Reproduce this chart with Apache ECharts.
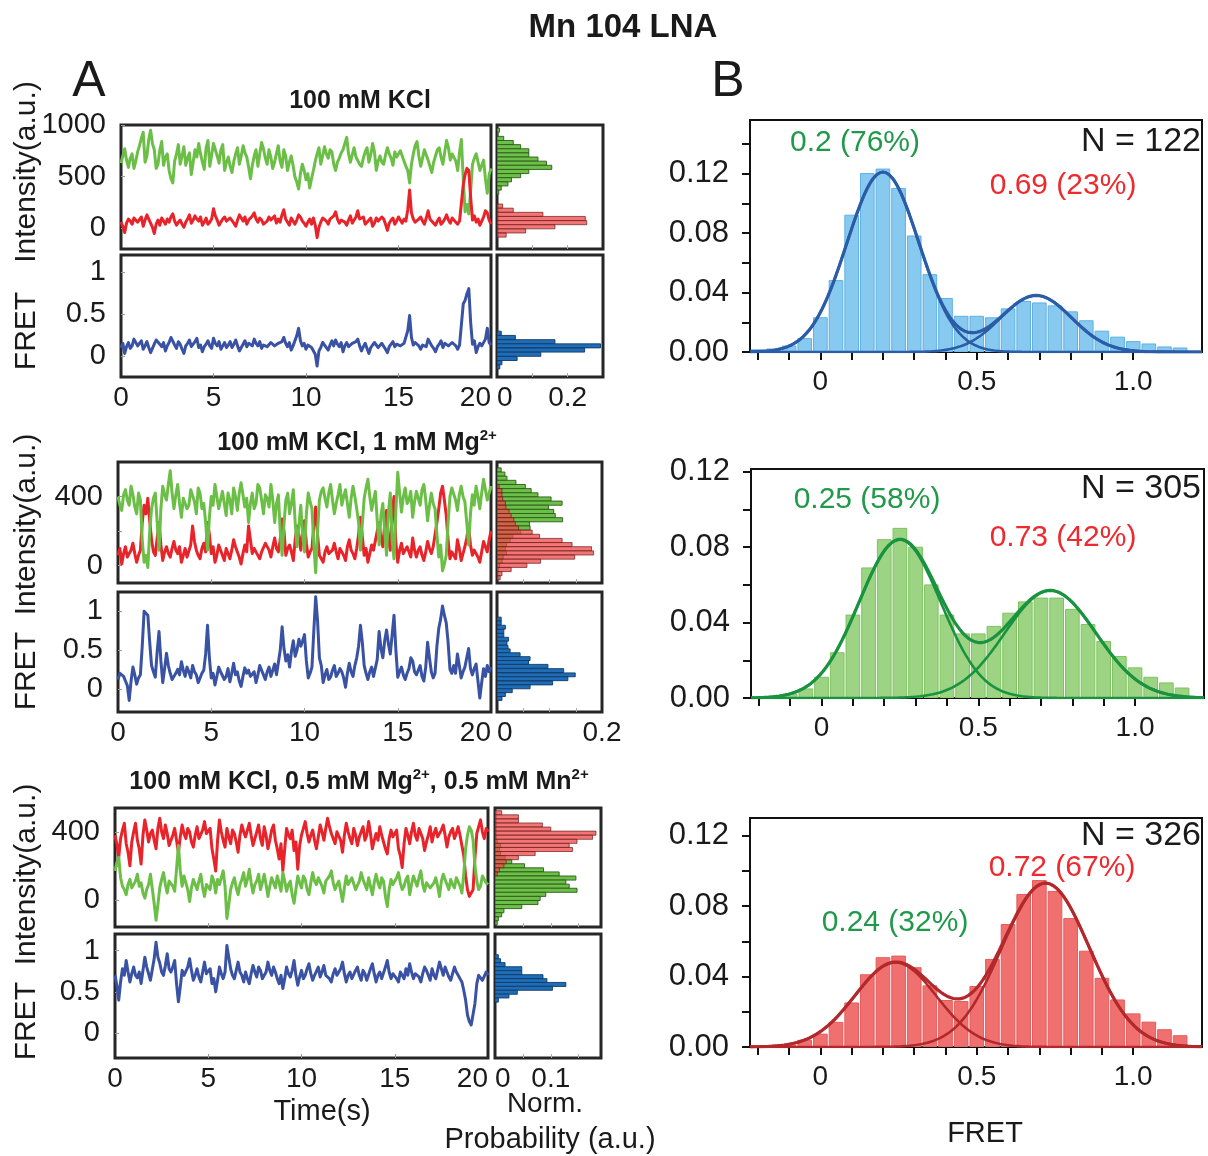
<!DOCTYPE html>
<html><head><meta charset="utf-8">
<script src="https://cdn.jsdelivr.net/npm/echarts@6/dist/echarts.min.js"></script>
<style>html,body{margin:0;padding:0;background:#fff}#c{width:1208px;height:1156px}</style>
</head><body><div id="c"></div>
<script>
// ---------- time traces (sampled every 0.1 s, 0..20 s) ----------
const DT = 0.1;
const r1Don = [
630,700,770,660,590,680,720,580,650,740, 800,870,930,640,700,860,950,820,760,580,
620,760,840,610,690,720,560,480,440,650, 720,810,620,700,790,610,680,730,520,640,
760,690,820,720,640,570,780,850,600,710, 820,760,700,630,760,810,560,640,690,600,
540,650,720,780,620,700,800,730,690,590, 480,610,700,760,600,720,830,770,680,620,
760,690,580,640,720,800,650,590,760,700, 560,640,700,610,500,450,380,530,620,560,
470,530,390,480,560,650,720,780,620,700, 790,720,680,760,740,620,560,640,680,730,
760,820,880,720,640,710,780,690,700,620, 600,680,740,780,640,710,820,740,560,650,
700,640,620,710,780,720,680,610,740,690, 680,750,700,650,600,560,440,620,720,800,
840,700,600,680,760,710,660,600,540,640, 700,760,780,690,620,740,850,780,660,720,
720,650,560,740,860,480,160,230,140,360, 620,680,720,640,560,610,660,480,340,520, 580];
const r1Acc = [
60,20,-40,50,90,70,40,100,110,60, 70,110,20,80,130,90,50,10,-50,40,
80,30,100,70,40,90,60,110,140,70, 30,60,80,40,10,60,90,130,50,80,
120,90,70,110,30,60,100,40,60,90, 190,120,80,30,40,90,110,70,60,100,
90,50,20,80,130,100,70,110,40,80, 90,120,150,90,60,100,80,40,30,70,
110,80,70,120,50,90,60,130,180,90, 60,30,100,70,40,80,130,110,70,50,
20,60,90,40,100,30,-90,10,60,100, 110,70,40,90,80,120,160,90,50,80,
90,60,30,80,120,50,60,110,170,90, 80,110,40,60,70,100,20,50,100,70,
60,110,90,40,-20,50,80,100,40,70, 110,80,50,90,70,180,370,150,90,60,
60,90,110,70,40,100,170,90,80,50, 30,70,100,40,60,90,130,80,50,100,
90,60,40,70,80,420,520,580,560,300, 80,120,60,90,30,70,110,170,150,80, 40];
const r1Fret = [
0.10,0.15,0.03,0.11,0.16,0.09,0.12,0.20,0.18,0.12, 0.13,0.18,0.08,0.12,0.17,0.10,0.04,0.09,0.14,0.19,
0.19,0.14,0.11,0.16,0.06,0.12,0.16,0.22,0.20,0.13, 0.09,0.17,0.14,0.08,0.03,0.12,0.15,0.19,0.11,0.14,
0.17,0.21,0.10,0.13,0.05,0.11,0.14,0.18,0.12,0.09, 0.21,0.15,0.12,0.17,0.08,0.12,0.16,0.10,0.13,0.17,
0.10,0.14,0.19,0.12,0.06,0.10,0.14,0.18,0.11,0.15, 0.16,0.12,0.20,0.15,0.12,0.17,0.09,0.13,0.15,0.11,
0.13,0.16,0.18,0.12,0.10,0.15,0.14,0.17,0.22,0.15, 0.11,0.16,0.07,0.12,0.14,0.24,0.33,0.18,0.12,0.15,
0.08,0.13,0.15,0.10,0.12,0.02,-0.12,0.06,0.10,0.16, 0.14,0.10,0.07,0.13,0.18,0.12,0.19,0.14,0.11,0.16,
0.05,0.12,0.16,0.11,0.09,0.15,0.13,0.17,0.20,0.12, 0.06,0.11,0.15,0.09,0.03,0.10,0.12,0.16,0.17,0.10,
0.09,0.15,0.14,0.08,0.04,0.11,0.13,0.17,0.11,0.14, 0.16,0.12,0.10,0.15,0.14,0.30,0.48,0.22,0.13,0.16,
0.17,0.12,0.08,0.13,0.15,0.11,0.20,0.16,0.12,0.09, 0.05,0.11,0.14,0.18,0.10,0.15,0.16,0.12,0.12,0.16,
0.15,0.12,0.08,0.13,0.13,0.62,0.66,0.74,0.80,0.40, 0.14,0.18,0.04,0.11,0.15,0.12,0.10,0.20,0.33,0.16, 0.13];

const r2Don = [
400,350,320,410,440,380,350,460,410,340, 300,420,380,150,20,60,-10,200,330,390,
420,250,90,330,460,410,380,470,550,420, 330,410,470,360,280,390,400,330,350,440,
440,370,300,450,420,330,360,250,90,280, 400,350,470,400,330,380,430,360,290,420,
380,300,450,400,320,420,480,410,340,390, 250,360,420,330,360,470,450,380,300,410,
390,340,470,380,250,360,410,200,60,240, 380,420,300,360,440,250,110,230,350,180,
80,300,420,370,330,120,-40,200,380,430, 450,390,340,420,470,380,300,360,410,470,
350,400,440,360,280,390,460,400,330,250, 90,240,390,450,500,400,320,380,430,260,
120,290,360,200,60,310,420,150,40,320, 540,420,310,400,450,360,380,430,280,370,
430,390,350,440,470,380,260,350,420,360, 330,180,50,120,-30,10,60,250,400,450,
440,380,320,410,460,400,370,250,120,300, 410,350,460,400,330,420,500,440,380,420, 460];
const r2Acc = [
60,100,10,70,110,50,40,90,130,70, 20,60,90,250,350,300,390,260,150,80,
60,160,250,120,30,80,110,70,50,100, 140,90,70,110,20,60,100,50,60,120,
230,140,90,60,40,100,130,80,250,180, 70,110,20,60,120,90,60,30,100,70,
40,90,150,110,80,50,10,70,120,80, 230,150,70,100,110,60,40,80,90,130,
130,90,50,110,160,100,80,150,270,200, 60,100,120,80,30,150,230,170,90,200,
260,130,50,80,100,230,340,180,60,40, 20,80,110,70,60,90,130,80,40,100,
90,60,30,110,150,90,70,40,100,180, 280,170,60,100,20,70,120,90,80,200,
250,160,110,240,320,150,90,300,400,130, 20,90,130,70,60,110,100,50,160,90,
50,90,110,60,30,80,140,100,70,110, 120,250,330,420,460,380,290,150,40,80,
90,40,150,100,30,70,110,160,230,120, 60,90,100,50,20,80,140,110,80,150, 200];
const r2Fret = [
0.12,0.20,0.22,0.16,0.10,0.04,-0.15,0.10,0.28,0.18, 0.06,0.14,0.18,0.55,1.00,0.98,0.95,0.60,0.30,0.22,
0.15,0.48,0.74,0.36,0.08,0.26,0.46,0.30,0.20,0.12, 0.12,0.20,0.25,0.18,0.35,0.24,0.16,0.28,0.22,0.14,
0.30,0.22,0.18,0.08,0.10,0.20,0.24,0.45,0.82,0.40, 0.14,0.20,0.05,0.16,0.28,0.22,0.20,0.12,0.16,0.26,
0.09,0.20,0.33,0.18,0.22,0.10,0.03,0.16,0.27,0.20, 0.24,0.16,0.14,0.22,0.08,0.18,0.30,0.24,0.18,0.12,
0.22,0.28,0.16,0.24,0.32,0.18,0.20,0.50,0.80,0.52, 0.36,0.44,0.28,0.48,0.62,0.42,0.50,0.64,0.55,0.62,
0.70,0.36,0.14,0.20,0.28,0.75,1.19,0.88,0.40,0.30, 0.08,0.18,0.25,0.12,0.15,0.24,0.30,0.16,0.20,0.26,
0.22,0.14,0.02,0.20,0.33,0.22,0.16,0.30,0.40,0.55, 0.82,0.60,0.30,0.20,0.12,0.22,0.28,0.16,0.18,0.38,
0.74,0.52,0.40,0.62,0.76,0.58,0.45,0.70,0.95,0.50, 0.15,0.22,0.28,0.18,0.12,0.20,0.26,0.40,0.36,0.22,
0.18,0.24,0.30,0.16,0.10,0.28,0.60,0.40,0.22,0.14, 0.20,0.55,0.78,0.90,1.07,0.95,0.85,0.60,0.25,0.20,
0.30,0.20,0.45,0.30,0.14,0.22,0.28,0.40,0.52,0.26, 0.18,0.26,0.32,0.10,-0.12,0.08,0.26,0.16,0.30,0.22, 0.28];

const r3Acc = [
380,330,250,360,410,450,330,280,200,340, 400,450,350,300,210,380,470,410,340,390,
410,350,300,420,480,400,360,440,390,320, 330,380,420,350,280,370,440,390,360,420,
400,340,310,380,430,360,350,410,460,390, 380,420,300,240,170,350,470,400,350,310,
420,370,330,410,390,340,280,380,440,400, 370,410,450,380,320,360,400,440,360,320,
430,380,300,350,410,440,350,300,240,330, 170,300,420,380,360,410,290,340,180,320,
380,420,460,390,340,380,410,350,300,370, 440,400,350,420,480,430,390,360,330,400,
410,350,280,380,450,400,360,330,420,380, 320,370,400,430,350,380,460,390,300,350,
390,350,430,380,340,300,270,360,410,370, 360,410,300,260,190,330,420,380,330,400,
450,380,350,420,410,360,290,340,380,430, 340,390,420,370,360,410,440,380,310,370,
400,420,360,390,430,380,320,260,140,60, 20,10,60,250,390,430,470,400,360,420, 400];
const r3Don = [
170,220,250,130,80,60,30,90,120,70, 60,110,150,80,100,40,10,60,90,150,
140,-20,-120,-30,70,120,160,90,40,110, 110,80,50,180,320,170,80,140,130,60,
-10,70,120,90,60,110,150,70,20,90, 100,60,140,110,40,120,90,130,170,80,
-110,-30,60,100,130,70,30,90,120,160, 80,120,180,100,40,90,110,150,60,100,
150,90,20,80,130,100,70,140,100,50, 160,110,50,90,110,30,-20,60,140,100,
70,140,120,60,30,100,160,110,90,130, 130,80,40,110,100,140,170,100,60,90,
110,50,-10,70,140,90,80,130,120,60, 50,110,160,120,90,60,130,80,30,100,
150,100,70,130,110,20,-40,60,120,90, 90,130,160,100,60,80,120,140,30,90,
140,110,80,130,170,90,50,100,110,70, 60,100,130,80,20,110,150,120,90,60,
120,90,70,130,140,80,40,150,300,380, 430,410,350,200,110,60,80,140,130,100, 90];
const r3Fret = [
0.70,0.58,0.40,0.62,0.78,0.70,0.88,0.74,0.62,0.72, 0.80,0.70,0.67,0.74,0.60,0.76,0.92,0.80,0.72,0.64,
0.66,0.90,1.10,0.92,0.85,0.74,0.70,0.82,0.96,0.78, 0.74,0.80,0.88,0.60,0.38,0.56,0.76,0.70,0.68,0.80,
0.90,0.76,0.64,0.70,0.78,0.68,0.62,0.74,0.86,0.72, 0.70,0.78,0.60,0.66,0.50,0.64,0.80,0.72,0.66,0.74,
1.06,0.92,0.78,0.70,0.66,0.76,0.86,0.74,0.70,0.62, 0.74,0.66,0.60,0.72,0.82,0.74,0.68,0.80,0.76,0.66,
0.64,0.74,0.86,0.76,0.70,0.80,0.74,0.66,0.60,0.70, 0.54,0.66,0.80,0.72,0.68,0.76,0.88,0.70,0.58,0.68,
0.76,0.66,0.70,0.78,0.84,0.72,0.64,0.70,0.72,0.80, 0.68,0.74,0.82,0.70,0.72,0.66,0.62,0.72,0.78,0.70,
0.70,0.78,0.86,0.72,0.62,0.70,0.74,0.66,0.68,0.76, 0.80,0.70,0.64,0.76,0.72,0.64,0.66,0.78,0.84,0.72,
0.62,0.70,0.74,0.66,0.68,0.80,0.88,0.74,0.66,0.72, 0.72,0.66,0.62,0.74,0.70,0.66,0.78,0.70,0.84,0.74,
0.66,0.72,0.74,0.68,0.62,0.72,0.80,0.76,0.70,0.64, 0.78,0.70,0.66,0.76,0.86,0.78,0.70,0.80,0.74,0.68,
0.64,0.72,0.80,0.74,0.70,0.66,0.62,0.52,0.40,0.22, 0.14,0.10,0.12,0.36,0.60,0.70,0.72,0.64,0.66,0.74, 0.70];

// ---------- side histograms (normalised probability per bin) ----------
const r1DonBins = [950,910,870,830,790,750,710,670,630,590,550,510,470,430,390,350];
const r1DonHist = [0.007,0.002,0.019,0.046,0.067,0.09,0.09,0.116,0.14,0.155,0.09,0.067,0.041,0.031,0.012,0.005];
const r1AccBins = [215,175,135,95,55,15,-25,-65];
const r1AccHist = [0.016,0.046,0.13,0.25,0.254,0.164,0.081,0.026];
const r1FretBins = [0.27,0.22,0.17,0.12,0.07,0.02,-0.03,-0.08,-0.13];
const r1FretHist = [0.012,0.052,0.164,0.293,0.248,0.124,0.057,0.014,0.008];

const r2IntBins = [554,530,506,482,458,434,410,386,362,338,314,290,266,242,218,194,170,146,122,98,74,50,26,2,-22,-46,-70];
const r2DonHist = [0.008,0.015,0.019,0.036,0.054,0.065,0.078,0.103,0.124,0.098,0.108,0.111,0.125,0.062,0.063,0.045,0.03,0.025,0.018,0.016,0.018,0.012,0.01,0.005,0.002,0,0];
const r2AccHist = [0,0,0,0,0.004,0.0095,0.0095,0.011,0.016,0.017,0.023,0.027,0.032,0.035,0.041,0.067,0.081,0.124,0.143,0.18,0.184,0.148,0.083,0.057,0.027,0.0095,0.006];
const r2FretBins = [0.90,0.85,0.795,0.74,0.69,0.64,0.59,0.535,0.49,0.44,0.39,0.34,0.29,0.235,0.18,0.13,0.075,0.025,-0.025,-0.075,-0.125];
const r2FretHist = [0.008,0.008,0.016,0.013,0.013,0.022,0.019,0.021,0.025,0.044,0.063,0.06,0.097,0.127,0.149,0.135,0.106,0.063,0.029,0.016,0.0095];

const r3IntBins = [512,488,464,440,416,392,368,344,320,296,272,248,224,200,176,152,128,104,80,56,32,8,-16,-40,-64,-88,-112,-136];
const r3AccHist = [0.012,0.042,0.042,0.085,0.1,0.181,0.175,0.147,0.133,0.139,0.072,0.042,0.02,0.016,0.008,0.004,0,0,0,0,0,0,0,0,0,0,0,0];
const r3DonHist = [0,0,0,0,0,0,0,0.004,0.01,0.008,0.01,0.018,0.03,0.053,0.087,0.115,0.145,0.127,0.133,0.147,0.091,0.081,0.077,0.048,0.016,0.012,0.006,0.004];
const r3FretBins = [0.925,0.877,0.83,0.78,0.733,0.684,0.636,0.59,0.543,0.495,0.45,0.40];
const r3FretHist = [0.006,0.010,0.018,0.048,0.048,0.086,0.093,0.127,0.103,0.04,0.025,0.006];

// ---------- FRET histograms (panel B) ----------
const fretBins = [-0.2,-0.15,-0.1,-0.05,0,0.05,0.1,0.15,0.2,0.25,0.3,0.35,0.4,0.45,0.5,0.55,0.6,0.65,0.7,0.75,0.8,0.85,0.9,0.95,1.0,1.05,1.1,1.15];
const histKCl = [0.0015,0.002,0.004,0.009,0.023,0.048,0.092,0.12,0.123,0.110,0.078,0.052,0.036,0.024,0.024,0.023,0.029,0.034,0.033,0.031,0.027,0.021,0.014,0.010,0.007,0.0054,0.0034,0.0027];
const histMg = [0,0.001,0.002,0.0048,0.011,0.024,0.044,0.069,0.084,0.09,0.080,0.060,0.044,0.034,0.034,0.038,0.045,0.051,0.053,0.053,0.047,0.039,0.030,0.022,0.016,0.011,0.008,0.0053];
const histMn = [0,0,0.001,0.0038,0.0073,0.014,0.025,0.041,0.0507,0.0516,0.045,0.0347,0.0264,0.0258,0.0343,0.0497,0.0695,0.0866,0.0945,0.0883,0.0729,0.0544,0.039,0.0267,0.0188,0.0141,0.0098,0.0064];
// Gaussian fit parameters: [mean, peak height, sd]
const fitKCl = [[0.2,0.121,0.115],[0.69,0.038,0.113]];
const fitMg = [[0.25,0.084,0.13],[0.73,0.057,0.145]];
const fitMn = [[0.24,0.048,0.13],[0.72,0.093,0.14]];

// ---------- tick labels ----------
const timeTicks = [0,5,10,15,20];
const fretTicks = [0,0.5,1];
const bTicksX = [-0.2,-0.1,0,0.1,0.2,0.3,0.4,0.5,0.6,0.7,0.8,0.9,1.0];
const bLabelsX = [0,0.5,1.0];

// =====================================================
const FONT = "'Liberation Sans', Arial, Helvetica, sans-serif";
const TXT = '#1a1a1a';
const GREEN = '#6cbf46', RED = '#e8242a', BLUE = '#3a52a3';

const grids = [], xAxes = [], yAxes = [], series = [];
function addGrid(l, t, w, h, bw) {
  grids.push({left: l, top: t, width: w, height: h, show: true, borderColor: '#262626', borderWidth: bw,
    backgroundColor: 'rgba(0,0,0,0)', outerBoundsMode: 'none', containLabel: false});
  return grids.length - 1;
}
function lbl(extra) {
  return Object.assign({fontSize: 28, color: TXT, fontFamily: FONT}, extra);
}
function fmtNum(v) { return v === 0 ? '0' : String(+v.toFixed(2)); }
const NOLINE = {show: false, onZero: false};

function tracePanel(l, t, w, h, yMin, yMax, yLabels, yTicks, showX) {
  const gi = addGrid(l, t, w, h, 3);
  xAxes.push({type: 'value', gridIndex: gi, position: 'bottom', min: 0, max: 20, axisLine: NOLINE, splitLine: {show: false},
    axisTick: {show: true, inside: true, length: 4, lineStyle: {color: '#999', width: 1}, customValues: [5, 10, 15]},
    axisLabel: lbl({show: showX, customValues: timeTicks, margin: 7, formatter: fmtNum, alignMaxLabel: 'right'})});
  yAxes.push({type: 'value', gridIndex: gi, position: 'left', min: yMin, max: yMax, axisLine: NOLINE, splitLine: {show: false},
    axisTick: {show: true, inside: true, length: 4, lineStyle: {color: '#999', width: 1}, customValues: yTicks},
    axisLabel: lbl({fontSize: 29, customValues: yLabels, margin: 15, formatter: fmtNum})});
  return gi;
}
function sidePanel(l, t, w, h, yMin, yMax, xMax, xLabels, xTicks, showX) {
  const gi = addGrid(l, t, w, h, 3);
  xAxes.push({type: 'value', gridIndex: gi, position: 'bottom', min: 0, max: xMax, axisLine: NOLINE, splitLine: {show: false},
    axisTick: {show: true, inside: true, length: 4, lineStyle: {color: '#aaa', width: 1}, customValues: xTicks},
    axisLabel: lbl({show: showX, customValues: xLabels, margin: 7, formatter: fmtNum, alignMinLabel: 'left'})});
  yAxes.push({type: 'value', gridIndex: gi, position: 'left', min: yMin, max: yMax, axisLine: NOLINE, splitLine: {show: false},
    axisTick: {show: false}, axisLabel: {show: false}});
  return gi;
}
function histPanel(l, t, w, h, yMax) {
  const gi = addGrid(l, t, w, h, 2);
  grids[gi].borderColor = '#111';
  const yt = [];
  for (let k = 0; k * 0.02 <= yMax + 1e-9; k++) yt.push(+(k * 0.02).toFixed(2));
  xAxes.push({type: 'value', gridIndex: gi, position: 'bottom', min: -0.225, max: 1.22, axisLine: NOLINE, splitLine: {show: false},
    axisTick: {show: true, length: 8, lineStyle: {color: '#111', width: 2}, customValues: bTicksX},
    axisLabel: lbl({customValues: bLabelsX, margin: 16, formatter: v => v === 0 ? '0' : v.toFixed(1)})});
  yAxes.push({type: 'value', gridIndex: gi, position: 'left', min: 0, max: yMax, axisLine: NOLINE, splitLine: {show: false},
    axisTick: {show: true, length: 8, lineStyle: {color: '#111', width: 2}, customValues: yt},
    axisLabel: lbl({fontSize: 31, customValues: [0, 0.04, 0.08, 0.12], margin: 21, formatter: v => v.toFixed(2)})});
  return gi;
}

function trace(gi, vals, color, z) {
  series.push({type: 'line', xAxisIndex: gi, yAxisIndex: gi, z: z, silent: true, clip: true,
    showSymbol: false, symbol: 'none', animation: false,
    lineStyle: {color: color, width: 3, join: 'round'},
    data: vals.map((v, i) => [Math.round(i * DT * 10) / 10, v])});
}
function hbar(gi, bins, lens, bw, fill, stroke, z) {
  series.push({type: 'custom', xAxisIndex: gi, yAxisIndex: gi, z: z, silent: true, clip: true, encode: {x: 0, y: 1},
    data: bins.map((b, i) => [lens[i], b]),
    renderItem: function (params, api) {
      const len = api.value(0), c = api.value(1);
      if (!(len > 0)) return null;
      const a = api.coord([0, c + bw / 2]), b = api.coord([len, c - bw / 2]);
      return {type: 'rect', shape: {x: a[0], y: a[1], width: b[0] - a[0], height: b[1] - a[1]},
        style: {fill: fill, stroke: stroke, lineWidth: 0.9}};
    }});
}
function vbar(gi, bins, hs, bw, fill, stroke) {
  series.push({type: 'custom', xAxisIndex: gi, yAxisIndex: gi, z: 2, silent: true, clip: true, encode: {x: 0, y: 1},
    data: bins.map((b, i) => [b, hs[i]]),
    renderItem: function (params, api) {
      const c = api.value(0), h = api.value(1);
      if (!(h > 0)) return null;
      const a = api.coord([c - bw / 2, h]), b = api.coord([c + bw / 2, 0]);
      return {type: 'rect', shape: {x: a[0] + 1, y: a[1], width: b[0] - a[0] - 2, height: b[1] - a[1]},
        style: {fill: fill, stroke: stroke, lineWidth: 1}};
    }});
}
function fits(gi, params, color) {
  const xs = [];
  for (let k = 0; k <= 289; k++) xs.push(-0.225 + k * 0.005);
  const g = (p, x) => p[1] * Math.exp(-((x - p[0]) ** 2) / (2 * p[2] * p[2]));
  const mk = (fn, w) => series.push({type: 'line', xAxisIndex: gi, yAxisIndex: gi, z: 5, silent: true, clip: true,
    showSymbol: false, symbol: 'none', lineStyle: {color: color, width: w}, data: xs.map(x => [x, fn(x)])});
  mk(x => g(params[0], x), 2.6);
  mk(x => g(params[1], x), 2.6);
  mk(x => g(params[0], x) + g(params[1], x), 3.2);
}

// ---- Row 1 ----
let gi;
gi = tracePanel(121, 125, 370, 124, -200, 1000, [0, 500, 1000], [0, 500, 1000], false);
trace(gi, r1Don, GREEN, 3); trace(gi, r1Acc, RED, 4);
gi = tracePanel(121, 255, 370, 122, -0.25, 1.2, fretTicks, fretTicks, true);
trace(gi, r1Fret, BLUE, 3);
gi = sidePanel(497, 125, 106, 124, -200, 1000, 0.3, [], [0.1, 0.2], false);
hbar(gi, r1DonBins, r1DonHist, 40, '#6cbf47', '#2c5a1c', 3);
hbar(gi, r1AccBins, r1AccHist, 40, 'rgba(238,72,72,0.75)', 'rgba(110,30,30,0.8)', 4);
gi = sidePanel(497, 255, 106, 122, -0.25, 1.2, 0.3, [0, 0.2], [0.1, 0.2], true);
hbar(gi, r1FretBins, r1FretHist, 0.048, '#1f6db6', '#0e3a6a', 3);

// ---- Row 2 ----
gi = tracePanel(118, 462, 373, 121, -100, 600, [0, 400], [0, 200, 400], false);
trace(gi, r2Acc, RED, 3); trace(gi, r2Don, GREEN, 4);
gi = tracePanel(118, 592, 373, 120, -0.3, 1.25, fretTicks, fretTicks, true);
trace(gi, r2Fret, BLUE, 3);
gi = sidePanel(497, 462, 105, 121, -100, 600, 0.2, [], [0.05, 0.1, 0.15], false);
hbar(gi, r2IntBins, r2DonHist, 24, '#6cbf47', '#2c5a1c', 3);
hbar(gi, r2IntBins, r2AccHist, 24, 'rgba(238,72,72,0.75)', 'rgba(110,30,30,0.8)', 4);
gi = sidePanel(497, 592, 105, 120, -0.3, 1.25, 0.2, [0, 0.2], [0.05, 0.1, 0.15], true);
hbar(gi, r2FretBins, r2FretHist, 0.05, '#1f6db6', '#0e3a6a', 3);

// ---- Row 3 ----
gi = tracePanel(115, 808, 373, 119, -160, 540, [0, 400], [0, 200, 400], false);
trace(gi, r3Acc, RED, 3); trace(gi, r3Don, GREEN, 4);
gi = tracePanel(115, 934, 373, 124, -0.3, 1.2, fretTicks, fretTicks, true);
trace(gi, r3Fret, BLUE, 3);
gi = sidePanel(495, 808, 106, 119, -160, 540, 0.19, [], [0.05, 0.1, 0.15], false);
hbar(gi, r3IntBins, r3DonHist, 24, '#6cbf47', '#2c5a1c', 3);
hbar(gi, r3IntBins, r3AccHist, 24, 'rgba(238,72,72,0.75)', 'rgba(110,30,30,0.8)', 4);
gi = sidePanel(495, 934, 106, 124, -0.3, 1.2, 0.19, [0, 0.1], [0.05, 0.1, 0.15], true);
hbar(gi, r3FretBins, r3FretHist, 0.048, '#1f6db6', '#0e3a6a', 3);

// ---- Panel B ----
gi = histPanel(750, 120, 452, 232, 0.156);
vbar(gi, fretBins, histKCl, 0.05, '#88c9ef', '#5eb0e3'); fits(gi, fitKCl, '#2b5ca8');
gi = histPanel(751, 469, 453, 229, 0.1215);
vbar(gi, fretBins, histMg, 0.05, '#9dd483', '#7dc35f'); fits(gi, fitMg, '#1a9340');
gi = histPanel(750, 818, 452, 229, 0.13);
vbar(gi, fretBins, histMn, 0.05, '#f07070', '#e55a5a'); fits(gi, fitMn, '#b3282a');

// ---- texts ----
function txt(x, y, text, size, o) {
  o = o || {};
  return {type: 'text', x: x, y: y, rotation: o.rot || 0, silent: true, z: 100,
    style: {text: text, fill: o.color || TXT, fontSize: size, fontFamily: FONT, fontWeight: o.bold ? 'bold' : 'normal',
      align: o.align || 'center', verticalAlign: 'middle', lineHeight: o.lh || size, rich: o.rich}};
}
const supRich = {sup: {fontSize: 15, fontWeight: 'bold', fontFamily: FONT, fill: TXT, verticalAlign: 'top', lineHeight: 15}};
const GTXT = '#21994b', RTXT = '#ee2a2e';
const graphics = [
  txt(623, 28, 'Mn 104 LNA', 33, {bold: true}),
  txt(89, 82, 'A', 50), txt(728, 82, 'B', 50),
  txt(360, 101, '100 mM KCl', 25, {bold: true}),
  txt(357, 443, '100 mM KCl, 1 mM Mg{sup|2+}', 25, {bold: true, lh: 30, rich: supRich}),
  txt(359, 782, '100 mM KCl, 0.5 mM Mg{sup|2+}, 0.5 mM Mn{sup|2+}', 25, {bold: true, lh: 30, rich: supRich}),
  txt(27, 172, 'Intensity(a.u.)', 30, {rot: Math.PI / 2}),
  txt(27, 331, 'FRET', 30, {rot: Math.PI / 2}),
  txt(27, 572, 'FRET  Intensity(a.u.)', 30, {rot: Math.PI / 2}),
  txt(27, 922, 'FRET  Intensity(a.u.)', 30, {rot: Math.PI / 2}),
  txt(322, 1112, 'Time(s)', 29),
  txt(545, 1104, 'Norm.', 28),
  txt(550, 1140, 'Probability (a.u.)', 29),
  txt(985, 1134, 'FRET', 29),
  txt(1201, 142, 'N = 122', 34, {align: 'right'}),
  txt(1201, 489, 'N = 305', 34, {align: 'right'}),
  txt(1201, 836, 'N = 326', 34, {align: 'right'}),
  txt(855, 143, '0.2 (76%)', 30, {color: GTXT}),
  txt(1063, 186, '0.69 (23%)', 30, {color: RTXT}),
  txt(867, 500, '0.25 (58%)', 30, {color: GTXT}),
  txt(1063, 538, '0.73 (42%)', 30, {color: RTXT}),
  txt(1062, 868, '0.72 (67%)', 30, {color: RTXT}),
  txt(895, 923, '0.24 (32%)', 30, {color: GTXT})
];

const chart = echarts.init(document.getElementById('c'), null, {renderer: 'canvas'});
chart.setOption({
  animation: false, backgroundColor: '#fff',
  grid: grids, xAxis: xAxes, yAxis: yAxes, series: series, graphic: graphics
});
</script></body></html>
